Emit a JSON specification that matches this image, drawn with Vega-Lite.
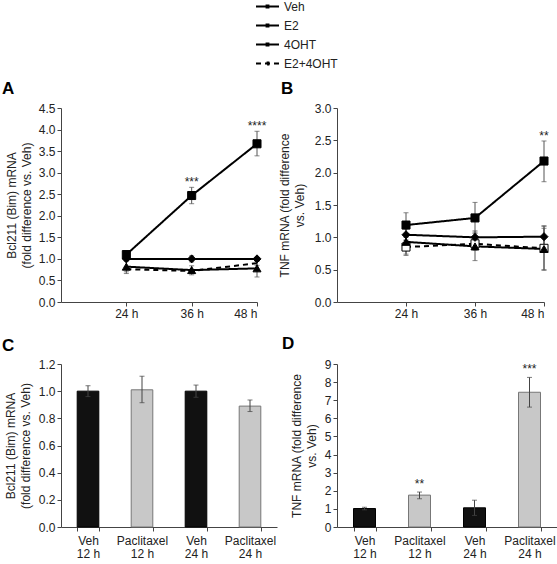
{
  "$schema": "https://vega.github.io/schema/vega-lite/v6.json",
  "autosize": {"type": "none"},
  "padding": {"left": 61, "top": 108, "right": 496, "bottom": 456},
  "background": "white",
  "config": {
    "font": "Liberation Sans",
    "view": {"stroke": null},
    "axis": {
      "labelFont": "Liberation Sans", "labelFontSize": 12, "labelColor": "#222",
      "titleFont": "Liberation Sans", "titleFontSize": 12, "titleFontWeight": "normal", "titleColor": "#222",
      "domainColor": "#444", "tickColor": "#444", "tickSize": 4, "grid": false, "labelPadding": 2, "titleLineHeight": 15,
      "labelOverlap": false
    },
    "title": {"font": "Liberation Sans", "fontSize": 17, "fontWeight": "bold", "anchor": "start", "frame": "group", "color": "#000"}
  },
  "bounds": "flush",
  "columns": 2,
  "spacing": {"row": 62, "column": 60},
  "resolve": {
    "scale": {"fill": "independent", "stroke": "independent", "shape": "independent", "size": "independent", "strokeDash": "shared"},
    "legend": {"strokeDash": "shared"}
  },
  "concat": [
    {
      "width": 196, "height": 194,
      "title": {"text": "A", "dx": -59, "offset": 4},
      "data": {"values": [
        {"series": "E2+4OHT", "time": 24, "mean": 0.76, "lo": 0.70, "hi": 0.82, "sig": ""},
        {"series": "E2+4OHT", "time": 36, "mean": 0.72, "lo": 0.68, "hi": 0.76, "sig": ""},
        {"series": "E2+4OHT", "time": 48, "mean": 0.90, "lo": 0.85, "hi": 0.95, "sig": ""},
        {"series": "4OHT", "time": 24, "mean": 0.82, "lo": 0.66, "hi": 0.95, "sig": ""},
        {"series": "4OHT", "time": 36, "mean": 0.74, "lo": 0.63, "hi": 0.84, "sig": ""},
        {"series": "4OHT", "time": 48, "mean": 0.78, "lo": 0.58, "hi": 0.95, "sig": ""},
        {"series": "E2", "time": 24, "mean": 1.10, "lo": 1.02, "hi": 1.18, "sig": ""},
        {"series": "E2", "time": 36, "mean": 2.47, "lo": 2.28, "hi": 2.66, "sig": "***"},
        {"series": "E2", "time": 48, "mean": 3.67, "lo": 3.39, "hi": 3.96, "sig": "****"},
        {"series": "Veh", "time": 24, "mean": 1.00, "lo": 0.97, "hi": 1.03, "sig": ""},
        {"series": "Veh", "time": 36, "mean": 1.00, "lo": 0.93, "hi": 1.07, "sig": ""},
        {"series": "Veh", "time": 48, "mean": 1.00, "lo": 0.97, "hi": 1.03, "sig": ""}
      ]},
      "encoding": {
        "x": {"field": "time", "type": "quantitative", "scale": {"domain": [12, 48]},
              "axis": {"values": [24, 36, 48], "labelExpr": "datum.value + ' h'", "title": null, "labelOverlap": false}}
      },
      "layer": [
        {
          "mark": {"type": "errorbar", "ticks": {"size": 5}, "color": "#555"},
          "encoding": {
            "y": {"field": "lo", "type": "quantitative", "scale": {"domain": [0, 4.5]},
                  "title": ["Bcl211 (Bim) mRNA", "(fold difference vs. Veh)"],
                  "axis": {"values": [0, 0.5, 1, 1.5, 2, 2.5, 3, 3.5, 4, 4.5], "format": ".1f", "titlePadding": 5, "labelOverlap": false}},
            "y2": {"field": "hi"}
          }
        },
        {
          "mark": {"type": "line", "color": "black", "strokeWidth": 2},
          "encoding": {
            "y": {"field": "mean", "type": "quantitative", "title": ["Bcl211 (Bim) mRNA", "(fold difference vs. Veh)"],
                  "axis": {"values": [0, 0.5, 1, 1.5, 2, 2.5, 3, 3.5, 4, 4.5], "format": ".1f", "titlePadding": 5, "labelOverlap": false}},
            "strokeDash": {"field": "series", "type": "nominal",
              "scale": {"domain": ["Veh", "E2", "4OHT", "E2+4OHT"], "range": [[1, 0], [1, 0], [1, 0], [5, 4]]},
              "legend": {
                "orient": "none", "legendX": 194, "legendY": -114, "title": null,
                "symbolType": "M-1,0H1M-0.08,-0.08H0.08V0.08H-0.08Z", "symbolSize": 529, "symbolStrokeWidth": 2,
                "labelFontSize": 12, "labelFont": "Liberation Sans", "labelColor": "#222", "rowPadding": -3, "labelOffset": 4
              }}
          }
        },
        {
          "transform": [{"filter": "datum.series != 'E2+4OHT'"}],
          "mark": {"type": "point", "filled": true, "stroke": "black", "strokeWidth": 1, "opacity": 1},
          "encoding": {
            "y": {"field": "mean", "type": "quantitative", "title": ["Bcl211 (Bim) mRNA", "(fold difference vs. Veh)"],
                  "axis": {"values": [0, 0.5, 1, 1.5, 2, 2.5, 3, 3.5, 4, 4.5], "format": ".1f", "titlePadding": 5, "labelOverlap": false}},
            "shape": {"field": "series", "type": "nominal",
              "scale": {"domain": ["E2+4OHT", "4OHT", "E2", "Veh"], "range": ["square", "triangle-up", "square", "diamond"]}, "legend": null},
            "fill": {"field": "series", "type": "nominal",
              "scale": {"domain": ["E2+4OHT", "4OHT", "E2", "Veh"], "range": ["white", "black", "black", "black"]}, "legend": null},
            "size": {"field": "series", "type": "nominal",
              "scale": {"domain": ["E2+4OHT", "4OHT", "E2", "Veh"], "range": [65, 65, 75, 55]}, "legend": null}
          }
        },
        {
          "transform": [{"filter": "datum.sig != ''"}],
          "mark": {"type": "text", "fontSize": 12, "baseline": "alphabetic", "dy": -1, "color": "#222"},
          "encoding": {
            "y": {"field": "hi", "type": "quantitative", "title": ["Bcl211 (Bim) mRNA", "(fold difference vs. Veh)"],
                  "axis": {"values": [0, 0.5, 1, 1.5, 2, 2.5, 3, 3.5, 4, 4.5], "format": ".1f", "titlePadding": 5, "labelOverlap": false}},
            "text": {"field": "sig"}
          }
        }
      ]
    },
    {
      "width": 207, "height": 194,
      "title": {"text": "B", "dx": -56, "offset": 4},
      "data": {"values": [
        {"series": "E2+4OHT", "time": 24, "mean": 0.85, "lo": 0.74, "hi": 0.96, "sig": ""},
        {"series": "E2+4OHT", "time": 36, "mean": 0.90, "lo": 0.80, "hi": 1.00, "sig": ""},
        {"series": "E2+4OHT", "time": 48, "mean": 0.83, "lo": 0.49, "hi": 1.17, "sig": ""},
        {"series": "4OHT", "time": 24, "mean": 0.93, "lo": 0.72, "hi": 1.14, "sig": ""},
        {"series": "4OHT", "time": 36, "mean": 0.86, "lo": 0.64, "hi": 1.08, "sig": ""},
        {"series": "4OHT", "time": 48, "mean": 0.82, "lo": 0.50, "hi": 1.14, "sig": ""},
        {"series": "E2", "time": 24, "mean": 1.19, "lo": 1.00, "hi": 1.38, "sig": ""},
        {"series": "E2", "time": 36, "mean": 1.30, "lo": 1.06, "hi": 1.54, "sig": ""},
        {"series": "E2", "time": 48, "mean": 2.18, "lo": 1.86, "hi": 2.49, "sig": "**"},
        {"series": "Veh", "time": 24, "mean": 1.04, "lo": 0.95, "hi": 1.13, "sig": ""},
        {"series": "Veh", "time": 36, "mean": 1.00, "lo": 0.90, "hi": 1.10, "sig": ""},
        {"series": "Veh", "time": 48, "mean": 1.01, "lo": 0.84, "hi": 1.18, "sig": ""}
      ]},
      "encoding": {
        "x": {"field": "time", "type": "quantitative", "scale": {"domain": [12, 48]},
              "axis": {"values": [24, 36, 48], "labelExpr": "datum.value + ' h'", "title": null, "labelOverlap": false}}
      },
      "layer": [
        {
          "mark": {"type": "errorbar", "ticks": {"size": 5}, "color": "#555"},
          "encoding": {
            "y": {"field": "lo", "type": "quantitative", "scale": {"domain": [0, 3]},
                  "title": ["TNF mRNA (fold difference", "vs. Veh)"],
                  "axis": {"values": [0, 0.5, 1, 1.5, 2, 2.5, 3], "format": ".1f", "titlePadding": 8, "labelOverlap": false}},
            "y2": {"field": "hi"}
          }
        },
        {
          "mark": {"type": "line", "color": "black", "strokeWidth": 2},
          "encoding": {
            "y": {"field": "mean", "type": "quantitative", "title": ["TNF mRNA (fold difference", "vs. Veh)"],
                  "axis": {"values": [0, 0.5, 1, 1.5, 2, 2.5, 3], "format": ".1f", "titlePadding": 8, "labelOverlap": false}},
            "strokeDash": {"field": "series", "type": "nominal",
              "scale": {"domain": ["Veh", "E2", "4OHT", "E2+4OHT"], "range": [[1, 0], [1, 0], [1, 0], [5, 4]]},
              "legend": {
                "orient": "none", "legendX": 194, "legendY": -114, "title": null,
                "symbolType": "M-1,0H1M-0.08,-0.08H0.08V0.08H-0.08Z", "symbolSize": 529, "symbolStrokeWidth": 2,
                "labelFontSize": 12, "labelFont": "Liberation Sans", "labelColor": "#222", "rowPadding": -3, "labelOffset": 4
              }}
          }
        },
        {
          "mark": {"type": "point", "filled": true, "stroke": "black", "strokeWidth": 1, "opacity": 1},
          "encoding": {
            "y": {"field": "mean", "type": "quantitative", "title": ["TNF mRNA (fold difference", "vs. Veh)"],
                  "axis": {"values": [0, 0.5, 1, 1.5, 2, 2.5, 3], "format": ".1f", "titlePadding": 8, "labelOverlap": false}},
            "shape": {"field": "series", "type": "nominal",
              "scale": {"domain": ["E2+4OHT", "4OHT", "E2", "Veh"], "range": ["square", "triangle-up", "square", "diamond"]}, "legend": null},
            "fill": {"field": "series", "type": "nominal",
              "scale": {"domain": ["E2+4OHT", "4OHT", "E2", "Veh"], "range": ["white", "black", "black", "black"]}, "legend": null},
            "size": {"field": "series", "type": "nominal",
              "scale": {"domain": ["E2+4OHT", "4OHT", "E2", "Veh"], "range": [65, 65, 75, 55]}, "legend": null}
          }
        },
        {
          "transform": [{"filter": "datum.sig != ''"}],
          "mark": {"type": "text", "fontSize": 12, "baseline": "alphabetic", "dy": -1, "color": "#222"},
          "encoding": {
            "y": {"field": "hi", "type": "quantitative", "title": ["TNF mRNA (fold difference", "vs. Veh)"],
                  "axis": {"values": [0, 0.5, 1, 1.5, 2, 2.5, 3], "format": ".1f", "titlePadding": 8, "labelOverlap": false}},
            "text": {"field": "sig"}
          }
        }
      ]
    },
    {
      "width": 216, "height": 163,
      "title": {"text": "C", "dx": -59, "offset": 3},
      "data": {"values": [
        {"cat": "Veh|12 h", "grp": "Veh", "mean": 1.00, "lo": 0.96, "hi": 1.04},
        {"cat": "Paclitaxel|12 h", "grp": "Paclitaxel", "mean": 1.01, "lo": 0.915, "hi": 1.11},
        {"cat": "Veh|24 h", "grp": "Veh", "mean": 1.00, "lo": 0.955, "hi": 1.045},
        {"cat": "Paclitaxel|24 h", "grp": "Paclitaxel", "mean": 0.89, "lo": 0.85, "hi": 0.935}
      ]},
      "encoding": {
        "x": {"field": "cat", "type": "nominal", "sort": null,
              "scale": {"paddingInner": 0.6, "paddingOuter": 0.3},
              "axis": {"labelExpr": "split(datum.label, '|')", "labelAngle": 0, "title": null, "tickBand": "extent",
                       "labelLineHeight": 13, "labelPadding": 4, "labelOverlap": false}}
      },
      "layer": [
        {
          "mark": {"type": "bar", "strokeWidth": 1},
          "encoding": {
            "y": {"field": "mean", "type": "quantitative", "scale": {"domain": [0, 1.2]},
                  "title": ["Bcl211 (Bim) mRNA", "(fold difference vs. Veh)"],
                  "axis": {"values": [0, 0.2, 0.4, 0.6, 0.8, 1.0, 1.2], "format": ".1f", "titlePadding": 6, "labelOverlap": false}},
            "fill": {"field": "grp", "type": "nominal", "scale": {"domain": ["Veh", "Paclitaxel"], "range": ["#111111", "#c8c8c8"]}, "legend": null},
            "stroke": {"field": "grp", "type": "nominal", "scale": {"domain": ["Veh", "Paclitaxel"], "range": ["#000000", "#777777"]}, "legend": null}
          }
        },
        {
          "mark": {"type": "errorbar", "ticks": {"size": 5}, "color": "#444"},
          "encoding": {
            "y": {"field": "lo", "type": "quantitative", "title": ["Bcl211 (Bim) mRNA", "(fold difference vs. Veh)"],
                  "axis": {"values": [0, 0.2, 0.4, 0.6, 0.8, 1.0, 1.2], "format": ".1f", "titlePadding": 6, "labelOverlap": false}},
            "y2": {"field": "hi"}
          }
        }
      ]
    },
    {
      "width": 220, "height": 163,
      "title": {"text": "D", "dx": -55, "offset": 5},
      "data": {"values": [
        {"cat": "Veh|12 h", "grp": "Veh", "mean": 1.02, "lo": 0.95, "hi": 1.09, "sig": ""},
        {"cat": "Paclitaxel|12 h", "grp": "Paclitaxel", "mean": 1.76, "lo": 1.56, "hi": 1.93, "sig": "**"},
        {"cat": "Veh|24 h", "grp": "Veh", "mean": 1.06, "lo": 0.64, "hi": 1.48, "sig": ""},
        {"cat": "Paclitaxel|24 h", "grp": "Paclitaxel", "mean": 7.44, "lo": 6.62, "hi": 8.26, "sig": "***"}
      ]},
      "encoding": {
        "x": {"field": "cat", "type": "nominal", "sort": null,
              "scale": {"paddingInner": 0.6, "paddingOuter": 0.3},
              "axis": {"labelExpr": "split(datum.label, '|')", "labelAngle": 0, "title": null, "tickBand": "extent",
                       "labelLineHeight": 13, "labelPadding": 4, "labelOverlap": false}}
      },
      "layer": [
        {
          "mark": {"type": "bar", "strokeWidth": 1},
          "encoding": {
            "y": {"field": "mean", "type": "quantitative", "scale": {"domain": [0, 9]},
                  "title": ["TNF mRNA (fold difference", "vs. Veh)"],
                  "axis": {"values": [0, 1, 2, 3, 4, 5, 6, 7, 8, 9], "format": "d", "titlePadding": 6, "labelOverlap": false}},
            "fill": {"field": "grp", "type": "nominal", "scale": {"domain": ["Veh", "Paclitaxel"], "range": ["#111111", "#c8c8c8"]}, "legend": null},
            "stroke": {"field": "grp", "type": "nominal", "scale": {"domain": ["Veh", "Paclitaxel"], "range": ["#000000", "#777777"]}, "legend": null}
          }
        },
        {
          "mark": {"type": "errorbar", "ticks": {"size": 5}, "color": "#444"},
          "encoding": {
            "y": {"field": "lo", "type": "quantitative", "title": ["TNF mRNA (fold difference", "vs. Veh)"],
                  "axis": {"values": [0, 1, 2, 3, 4, 5, 6, 7, 8, 9], "format": "d", "titlePadding": 6, "labelOverlap": false}},
            "y2": {"field": "hi"}
          }
        },
        {
          "transform": [{"filter": "datum.sig != ''"}],
          "mark": {"type": "text", "fontSize": 12, "baseline": "alphabetic", "dy": -4, "color": "#222"},
          "encoding": {
            "y": {"field": "hi", "type": "quantitative", "title": ["TNF mRNA (fold difference", "vs. Veh)"],
                  "axis": {"values": [0, 1, 2, 3, 4, 5, 6, 7, 8, 9], "format": "d", "titlePadding": 6, "labelOverlap": false}},
            "text": {"field": "sig"}
          }
        }
      ]
    }
  ]
}
